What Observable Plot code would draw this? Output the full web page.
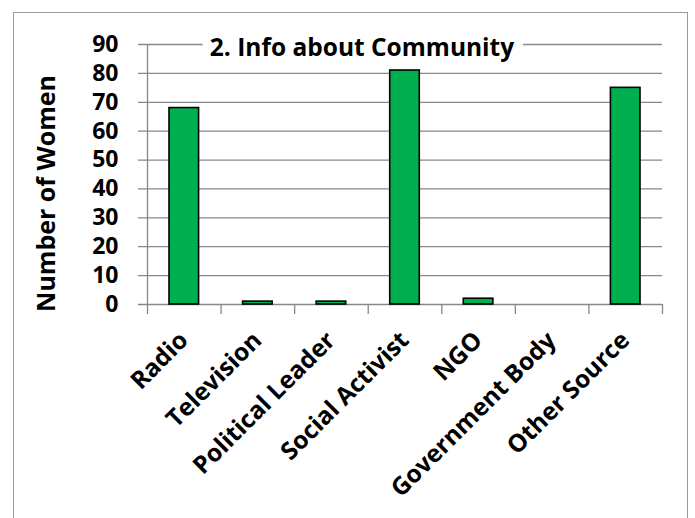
<!DOCTYPE html>
<html>
<head>
<meta charset="utf-8">
<script src="https://cdn.jsdelivr.net/npm/d3@7"></script>
<script src="https://cdn.jsdelivr.net/npm/@observablehq/plot@0.6"></script>
<style>
  html, body { margin: 0; padding: 0; background: #fff; overflow: hidden; width: 695px; height: 518px; }
  #frame { position: absolute; left: 13px; top: 12px; width: 675px; height: 600px; border: 1px solid #9a9a9a; box-sizing: border-box; }
  #chart { position: absolute; left: 0; top: 0; }
</style>
</head>
<body>
<div id="frame"></div>
<div id="chart"></div>
<script>
const categories = ["Radio", "Television", "Political Leader", "Social Activist", "NGO", "Government Body", "Other Source"];
const values = [68, 1, 1, 81, 2, 0, 75];
const yTicks = [0, 10, 20, 30, 40, 50, 60, 70, 80, 90];
const title = "2. Info about Community";
const yLabel = "Number of Women";

const data = categories.map((c, i) => ({category: c, value: values[i], index: i}));
const font = "'Open Sans', sans-serif";

const chart = Plot.plot({
  width: 695,
  height: 518,
  marginLeft: 147,
  marginRight: 33,
  marginTop: 44,
  marginBottom: 214,
  style: {fontFamily: font, fontWeight: "bold", color: "black", background: "transparent"},
  x: {domain: [0, categories.length], axis: null},
  y: {domain: [0, 90], axis: null},
  marks: [
    Plot.ruleY(yTicks, {y: d => d, stroke: "#888888", strokeWidth: 1.3, insetLeft: -9}),
    Plot.ruleX([0], {x: d => d, y1: 0, y2: 90, stroke: "#888888", strokeWidth: 1.3}),
    Plot.ruleX(d3.range(categories.length + 1), {x: d => d, y1: 0, y2: 0, insetBottom: -10, stroke: "#888888", strokeWidth: 1.3}),
    Plot.rectY(data.filter(d => d.value > 0), {
      x1: "index", x2: d => d.index + 1, y1: 0, y2: "value",
      insetLeft: 22, insetRight: 22,
      fill: "#00b050", stroke: "black", strokeWidth: 1.6
    }),
    Plot.text(yTicks, {
      x: 0, y: d => d, text: d => String(d), textAnchor: "end", dx: -29,
      fontSize: 23, fontWeight: "bold", fill: "black"
    }),
    Plot.text(data, {
      x: d => d.index + 0.5, y: 0, text: "category",
      rotate: -45, textAnchor: "end", lineAnchor: "top",
      dx: -7, dy: 25, fontSize: 24.5, fontWeight: "bold", fill: "black"
    }),
    Plot.text([title], {
      frameAnchor: "top", text: d => d, dx: -43, dy: 3.6, lineAnchor: "middle",
      fontSize: 24.5, fontWeight: "bold", fill: "black",
      stroke: "white", strokeWidth: 18, paintOrder: "stroke"
    }),
    Plot.text([yLabel], {
      frameAnchor: "left", text: d => d, rotate: -90, dx: -101, dy: 19,
      lineAnchor: "middle", textAnchor: "middle",
      fontSize: 25, fontWeight: "bold", fill: "black"
    })
  ]
});
document.getElementById("chart").appendChild(chart);
</script>
</body>
</html>
